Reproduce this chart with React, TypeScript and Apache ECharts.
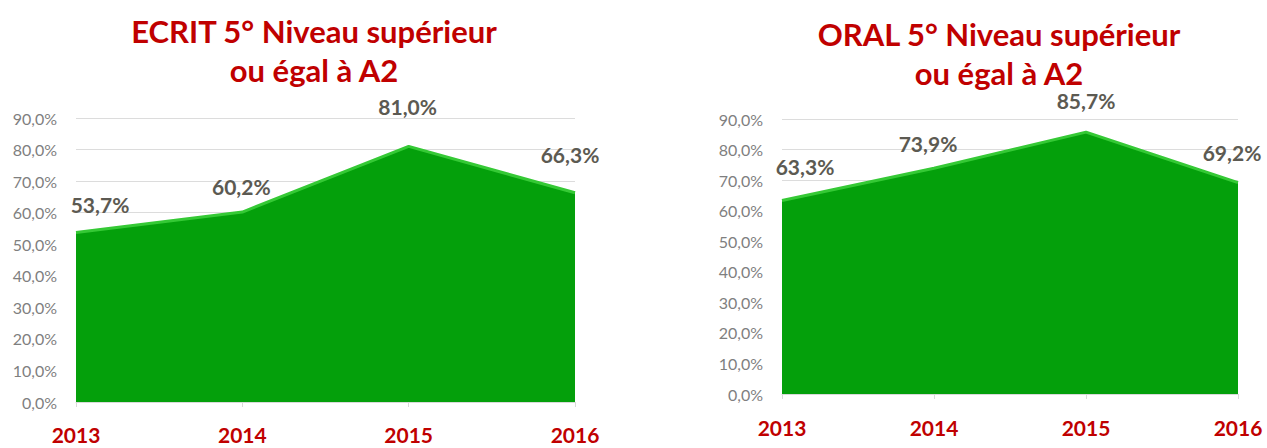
import React, { useEffect, useRef } from "react";
import * as echarts from "echarts";

const years = ["2013", "2014", "2015", "2016"];
const ecritValues = [53.7, 60.2, 81.0, 66.3];
const oralValues = [63.3, 73.9, 85.7, 69.2];
const titles = ["ECRIT 5° Niveau supérieur\nou égal à A2", "ORAL 5° Niveau supérieur\nou égal à A2"];
const yTicks = { min: 0, max: 90, interval: 10 };

// label offsets (styling) for each point, per chart
const ecritLabelOffsets = [[24, -28], [-1, -26], [-1, -40], [-5, -38]];
const oralLabelOffsets = [[23, -34], [-6, -25], [0, -32], [-6, -30]];

const FONT = "Lato, 'Noto Sans', sans-serif";
const fmt = (v: number) => v.toFixed(1).replace(".", ",") + "%";

export default function App() {
  const ref = useRef<HTMLDivElement>(null);
  useEffect(() => {
    if (!ref.current) return;
    const chart = echarts.init(ref.current, null, { renderer: "svg" });
    const grids = [
      { left: 76, top: 118, width: 499, height: 284 },
      { left: 782, top: 119, width: 456, height: 275 },
    ];
    const xMargins = [22, 23];
    const makeSeries = (vals: number[], offs: number[][], idx: number) => ({
      type: "line",
      xAxisIndex: idx,
      yAxisIndex: idx,
      data: vals.map((v, i) => ({
        value: v,
        label: { offset: offs[i] },
      })),
      symbol: "circle",
      symbolSize: 1,
      itemStyle: { color: "rgba(0,0,0,0)" },
      lineStyle: { color: "#35c935", width: 3 },
      areaStyle: { color: "#04a00b", opacity: 1 },
      label: {
        show: true,
        position: "inside",
        formatter: (p: any) => fmt(p.value),
        color: "#5c5a52",
        fontFamily: FONT,
        fontWeight: "bold",
        fontSize: 21,
      },
      z: 3,
    });
    chart.setOption({
      animation: false,
      backgroundColor: "#ffffff",
      title: [
        { text: titles[0], left: 309, top: 6, textAlign: "center" },
        { text: titles[1], left: 994, top: 9, textAlign: "center" },
      ].map((t) => ({
        ...t,
        textStyle: {
          color: "#c00000",
          fontFamily: FONT,
          fontWeight: "bold",
          fontSize: 31,
          lineHeight: 39,
        },
      })),
      grid: grids,
      xAxis: grids.map((_, i) => ({
        type: "category",
        gridIndex: i,
        data: years,
        boundaryGap: false,
        axisLine: { show: true, lineStyle: { color: "#d9d9d9", width: 1 } },
        axisTick: { show: true, length: 5, lineStyle: { color: "#d9d9d9" } },
        axisLabel: {
          margin: xMargins[i],
          color: "#c00000",
          fontFamily: FONT,
          fontWeight: "bold",
          fontSize: 21,
          lineHeight: 20,
        },
        splitLine: { show: false },
      })),
      yAxis: grids.map((_, i) => ({
        type: "value",
        gridIndex: i,
        min: yTicks.min,
        max: yTicks.max,
        interval: yTicks.interval,
        axisLine: { show: false },
        axisTick: { show: false },
        axisLabel: {
          margin: 19,
          color: "#7f7f7f",
          fontFamily: FONT,
          fontSize: 16,
          formatter: (v: number) => fmt(v),
        },
        splitLine: { show: true, lineStyle: { color: "#dcdcdc", width: 1 } },
      })),
      series: [
        makeSeries(ecritValues, ecritLabelOffsets, 0),
        makeSeries(oralValues, oralLabelOffsets, 1),
      ],
    });
    return () => chart.dispose();
  }, []);
  return (
    <div
      ref={ref}
      style={{ position: "absolute", left: 0, top: 0, width: 1267, height: 448 }}
    />
  );
}
